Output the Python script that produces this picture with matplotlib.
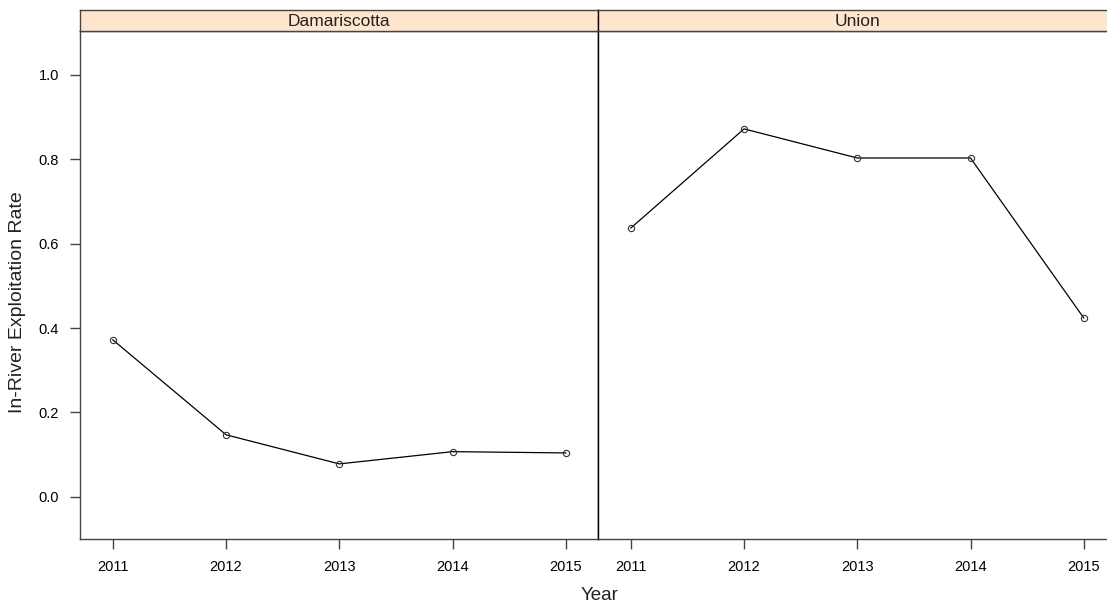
import matplotlib.pyplot as plt

plt.rcParams['font.family'] = ['Liberation Sans', 'DejaVu Sans']

years = [2011, 2012, 2013, 2014, 2015]
panels = ['Damariscotta', 'Union']
damariscotta = [0.372, 0.147, 0.078, 0.107, 0.104]
union = [0.637, 0.872, 0.803, 0.803, 0.424]
series = [damariscotta, union]

W, H = 1107, 607
fig = plt.figure(figsize=(W / 100, H / 100), dpi=100)

left0 = 80
pw = 518
bottom = 539
top = 31
strip_h = 21
frame = '#444444'

for i, (name, vals) in enumerate(zip(panels, series)):
    x0 = left0 + i * pw
    ax = fig.add_axes([x0 / W, (H - bottom) / H, pw / W, (bottom - top) / H])
    ax.plot(years, vals, color='black', lw=0.9, marker='o', ms=4.5,
            mfc='none', mec='#333333', mew=0.8)
    ax.set_xlim(2010.71, 2015.285)
    ax.set_ylim(-0.1, 1.104)
    ax.set_xticks(years)
    ax.set_xticklabels([str(y) for y in years])
    ax.tick_params(axis='x', direction='out', length=7, width=1, color=frame,
                   labelsize=10.5, pad=8)
    if i == 0:
        ax.set_yticks([0.0, 0.2, 0.4, 0.6, 0.8, 1.0])
        ax.set_yticklabels(['0.0', '0.2', '0.4', '0.6', '0.8', '1.0'])
        ax.tick_params(axis='y', direction='out', length=7, width=1, color=frame,
                       labelsize=10.5, pad=8)
        ax.spines['right'].set_color('black')
        ax.spines['left'].set_color(frame)
    else:
        ax.set_yticks([])
        ax.spines['left'].set_color('black')
        ax.spines['right'].set_visible(False)
    ax.spines['bottom'].set_color(frame)
    ax.spines['top'].set_color(frame)
    for s in ax.spines.values():
        s.set_linewidth(1)

    sax = fig.add_axes([x0 / W, (H - top) / H, pw / W, strip_h / H])
    sax.set_facecolor('#ffe5cc')
    sax.set_xticks([])
    sax.set_yticks([])
    for s in sax.spines.values():
        s.set_color(frame)
        s.set_linewidth(1)
    if i == 1:
        sax.spines['left'].set_color('black')
    sax.text(0.5, 0.45, name, ha='center', va='center', fontsize=12.5,
             color='#222222', transform=sax.transAxes)

fig.text(18 / W, 1 - 302 / H, 'In-River Exploitation Rate', rotation=90,
         ha='center', va='center', fontsize=14, color='#222222')
fig.text(600 / W, 1 - 596 / H, 'Year', ha='center', va='center',
         fontsize=13.5, color='#222222')

fig.savefig('out.png', dpi=100)
